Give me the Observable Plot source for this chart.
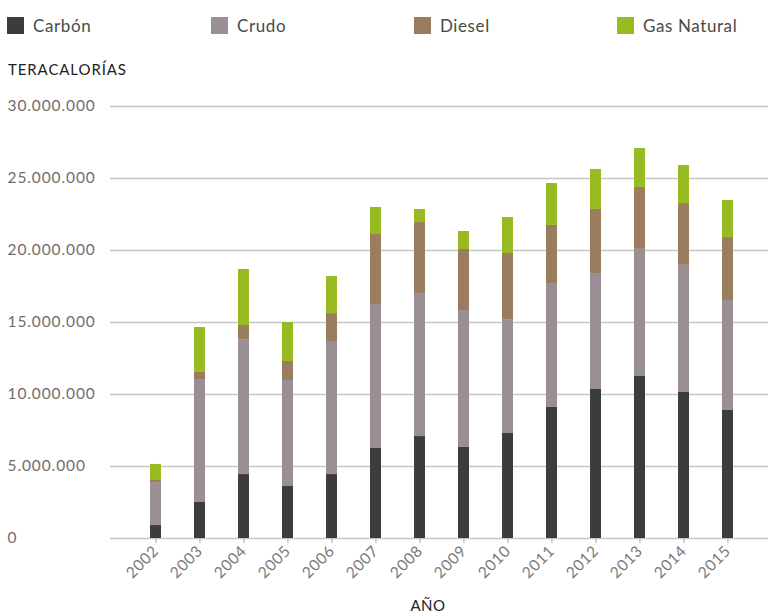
<!DOCTYPE html>
<html>
<head>
<meta charset="utf-8">
<script src="https://cdn.jsdelivr.net/npm/d3@7"></script>
<script src="https://cdn.jsdelivr.net/npm/@observablehq/plot@0.6"></script>
<style>
  html, body { margin: 0; padding: 0; background: #fff; }
  body { font-family: Lato, "Open Sans", sans-serif; width: 768px; height: 616px; overflow: hidden; }
  .legend { position: relative; height: 48px; }
  .item { position: absolute; top: 15px; display: flex; align-items: center; font-size: 17px; color: #4a4a4a; letter-spacing: 0.6px; }
  .sw { width: 17px; height: 17px; margin-right: 9px; }
  .subtitle { height: 40px; padding-left: 8px; font-size: 15px; color: #222; line-height: 42px; letter-spacing: 0.9px; }
  .caption { padding-left: 88px; text-align: center; font-size: 15px; color: #222; margin-top: 3px; letter-spacing: 0.5px; }
  .yax text { letter-spacing: 0.9px; }
  .xax text { letter-spacing: 0.6px; }
</style>
</head>
<body>
<div class="legend" id="legend"></div>
<div class="subtitle">TERACALORÍAS</div>
<div id="chart"></div>
<div class="caption">AÑO</div>
<script>
const years = ["2002","2003","2004","2005","2006","2007","2008","2009","2010","2011","2012","2013","2014","2015"];
const seriesNames = ["Carbón", "Crudo", "Diesel", "Gas Natural"];
const seriesColors = ["#3c3c3a", "#9b8f96", "#9a7d5c", "#98bb21"];
const carbon = [900000, 2500000, 4440000, 3610000, 4440000, 6250000, 7080000, 6320000, 7290000, 9100000, 10350000, 11250000, 10140000, 8890000];
const crudo  = [2940000, 8540000, 9330000, 7360000, 9240000, 10000000, 9930000, 9510000, 7910000, 8610000, 8050000, 8890000, 8890000, 7640000];
const diesel = [190000, 490000, 1020000, 1320000, 1940000, 4860000, 4930000, 4240000, 4590000, 4030000, 4450000, 4240000, 4230000, 4370000];
const gas    = [1110000, 3120000, 3890000, 2710000, 2570000, 1880000, 910000, 1250000, 2500000, 2910000, 2780000, 2700000, 2640000, 2570000];
const yTicks = [0, 5000000, 10000000, 15000000, 20000000, 25000000, 30000000];

const seriesValues = [carbon, crudo, diesel, gas];
const data = [];
seriesNames.forEach((s, i) => years.forEach((y, j) => data.push({year: y, series: s, value: seriesValues[i][j]})));

// legend
const legendX = [7, 211, 414, 617];
const legend = document.getElementById("legend");
seriesNames.forEach((s, i) => {
  const it = document.createElement("div");
  it.className = "item";
  it.style.left = legendX[i] + "px";
  it.innerHTML = `<div class="sw" style="background:${seriesColors[i]}"></div><span>${s}</span>`;
  legend.appendChild(it);
});

const fmt = d3.formatLocale({decimal: ",", thousands: ".", grouping: [3], currency: ["", ""]}).format(",d");

const chart = Plot.plot({
  width: 768,
  height: 505,
  marginTop: 18,
  marginBottom: 55,
  marginLeft: 110,
  marginRight: 0,
  style: {fontFamily: "Lato, 'Open Sans', sans-serif", background: "#fff"},
  x: {type: "band", domain: years, range: [110, 773], paddingInner: 0.75, paddingOuter: 0.86},
  y: {domain: [0, 30000000]},
  color: {domain: seriesNames, range: seriesColors},
  marks: [
    Plot.ruleY(yTicks, {stroke: "#c6c6c6", strokeWidth: 1.6}),
    Plot.axisY(yTicks, {tickSize: 0, tickFormat: fmt, textAnchor: "start", dx: -94, fontSize: 15.5, fill: "#6e6e6e", label: null, className: "yax"}),
    Plot.barY(data, {x: "year", y: "value", fill: "series", order: seriesNames}),
    Plot.axisX({tickSize: 5, stroke: "#aaa", tickRotate: -45, fontSize: 15.5, fill: "#7a7a7a", tickPadding: 5, label: null, className: "xax"})
  ]
});
document.getElementById("chart").appendChild(chart);
</script>
</body>
</html>
